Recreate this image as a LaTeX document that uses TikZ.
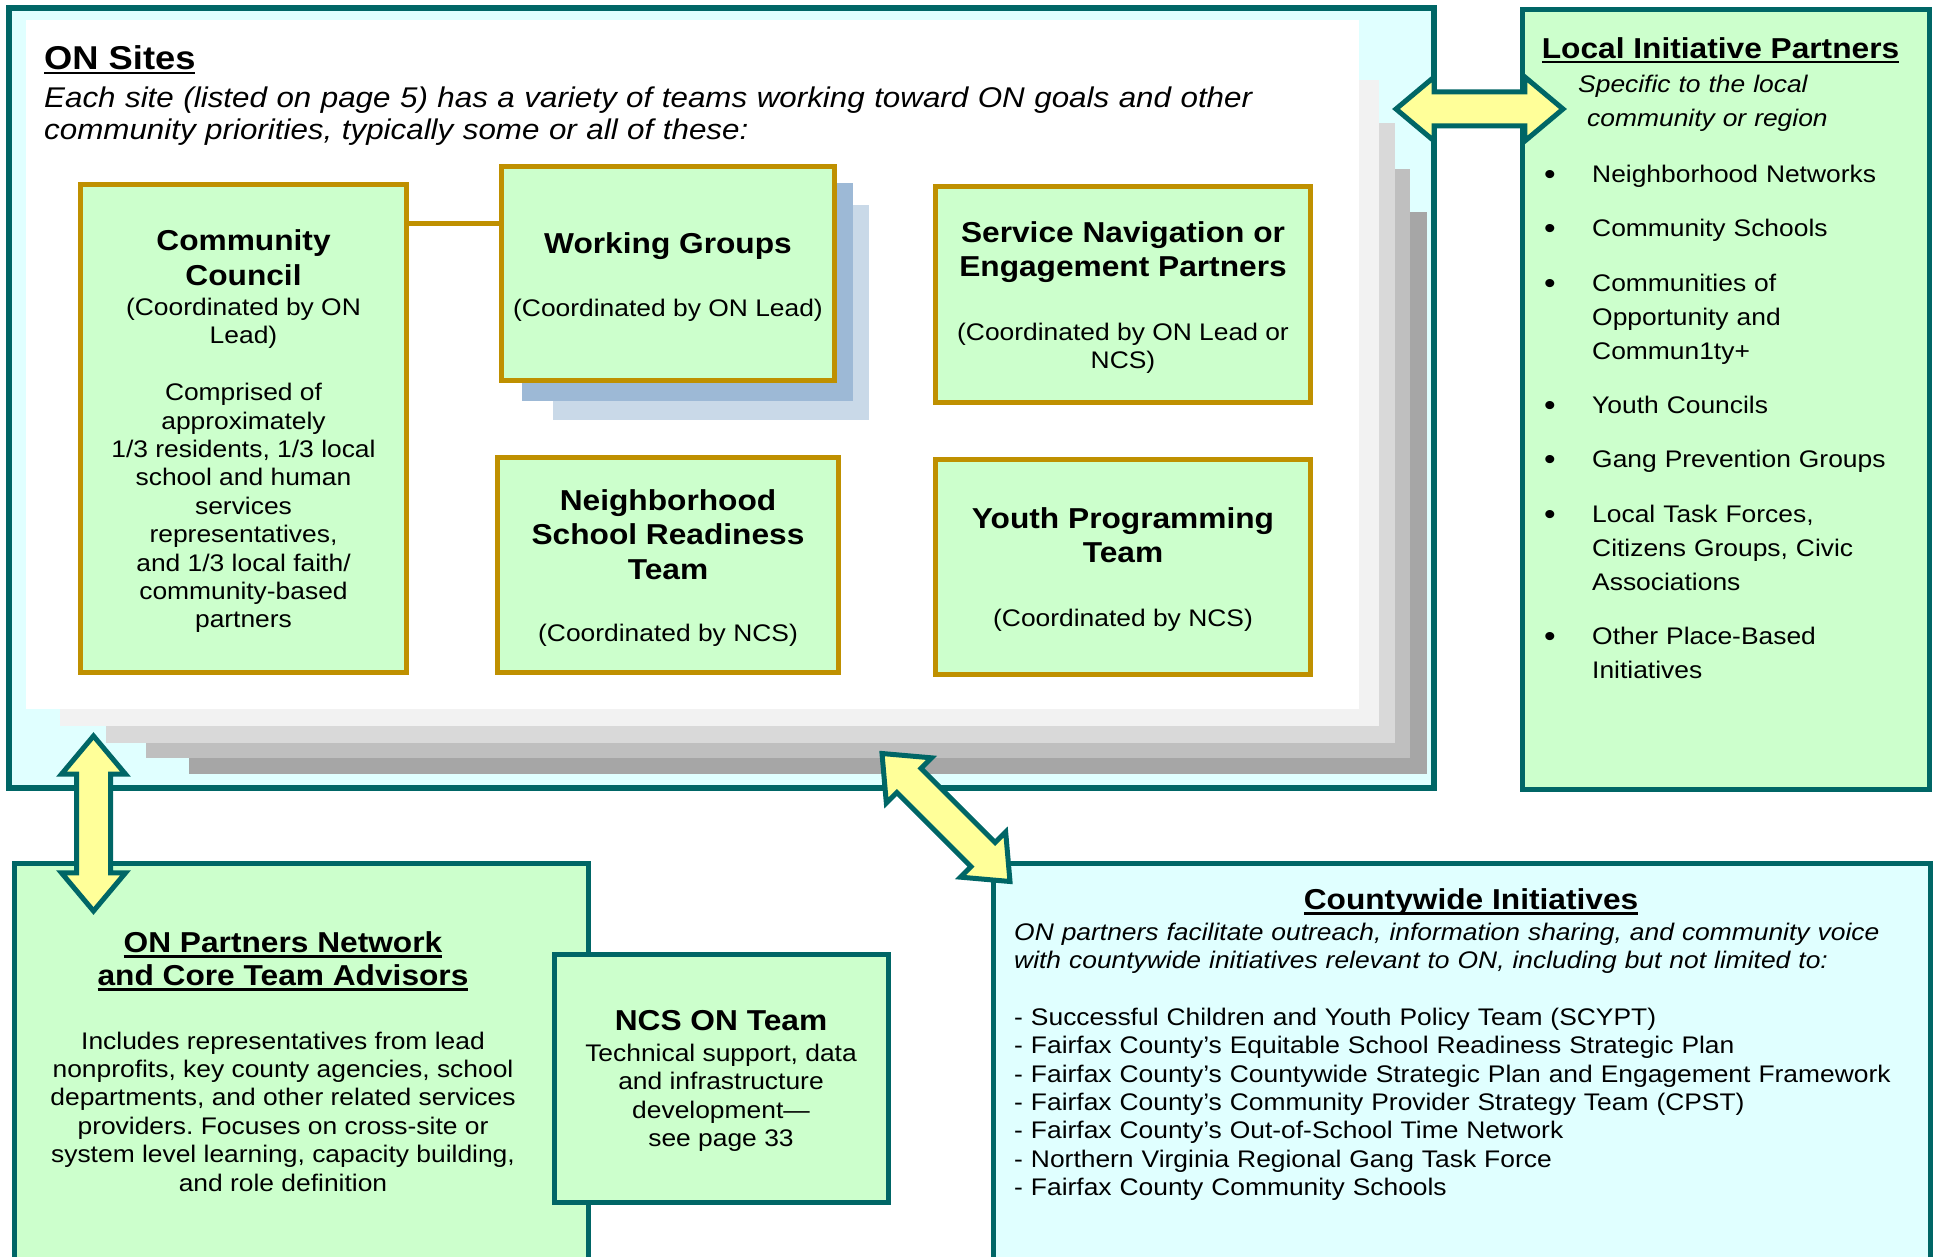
\documentclass[tikz,border=0pt]{standalone}
\usepackage{fontspec}
\setmainfont{Liberation Sans}[FakeStretch=1.1]
\usetikzlibrary{shapes.arrows,calc}

\definecolor{onteal}{HTML}{006666}
\definecolor{onmint}{HTML}{CCFFCC}
\definecolor{onice}{HTML}{E0FFFF}
\definecolor{ongold}{HTML}{BF9000}
\definecolor{onyellow}{HTML}{FFFF99}
\definecolor{layerA}{HTML}{F2F2F2}
\definecolor{layerB}{HTML}{D9D9D9}
\definecolor{layerC}{HTML}{BFBFBF}
\definecolor{layerD}{HTML}{A6A6A6}
\definecolor{wgshadeA}{HTML}{9DB9D6}
\definecolor{wgshadeB}{HTML}{C9D9E8}

\newcommand\fixspace{\spaceskip=\fontdimen2\font\relax\xspaceskip=\fontdimen2\font\relax}
\newcommand\headfont{\bfseries\fontsize{28.8}{34.5}\selectfont\fixspace}
\newcommand\bodyfont{\fontsize{24}{28.4}\selectfont\fixspace}
\newcommand\listfont{\fontsize{24}{34}\selectfont}
% pulls the text of a box down a little
\newcommand\lowerby[1]{\par\kern-#1\nointerlineskip\null}
\newsavebox\ulbox
\newcommand\undl[1]{\leavevmode\sbox\ulbox{#1}\rlap{\rule[-5pt]{\wd\ulbox}{2.5pt}}\usebox\ulbox}
\newcommand\lipitem[1]{\hangindent=48pt\hangafter=1\makebox[48pt][l]{\raisebox{-2pt}{\fontsize{30}{30}\selectfont\textbullet}}#1\par\vspace{20.3pt}}

\begin{document}
\begin{tikzpicture}[
    x=1pt, y=-1pt,
    sitebox/.style={
        rectangle,
        draw=ongold,
        line width=5pt,
        fill=onmint,
        inner sep=0pt,
        align=center,
    },
    tealbox/.style={
        rectangle,
        draw=onteal,
        line width=5pt,
        inner sep=0pt,
    },
    fatarrow/.style={
        double arrow,
        draw=onteal,
        fill=onyellow,
        line width=5pt,
        inner xsep=0pt,
        inner ysep=14.5pt,
        double arrow head extend=15pt,
        double arrow tip angle=80,
    },
]

    \useasboundingbox (0,0) rectangle (1939,1257);
    \clip (0,0) rectangle (1939,1257);

    % ON sites frame and the stacked pages
    \node[tealbox, line width=6pt, fill=onice, minimum width=1425pt, minimum height=780pt] (sites) at (721.5,398) {};
    \fill[layerD] (189,212) rectangle (1427,774);
    \fill[layerC] (146,169) rectangle (1410,758);
    \fill[layerB] (106,123) rectangle (1395,743);
    \fill[layerA] (60,80) rectangle (1379,726);
    \fill[white] (26,20) rectangle (1359,709);

    \node[anchor=base west, inner sep=0pt, font=\bfseries\fontsize{33}{38}\selectfont] (sitesTitle) at (44,69.3) {\undl{ON Sites}};
    \node[anchor=base west, inner sep=0pt, text width=1300pt, align=left, font=\itshape\fontsize{28.5}{32}\selectfont] (sitesIntro) at (44,107.5)
        {Each site (listed on page 5) has a variety of teams working toward ON goals and other\\community priorities, typically some or all of these:};

    % teams
    \node[sitebox, minimum width=326pt, minimum height=488pt, text width=310pt] (cc) at (243.5,428.5)
        {{\headfont Community\\Council\par}\vspace{1.6pt}{\bodyfont (Coordinated by ON\\Lead)\\[28.4pt]Comprised of\\approximately\\1/3 residents, 1/3 local\\school and human\\services\\representatives,\\and 1/3 local faith/\\community-based\\partners\par}\lowerby{6pt}};

    \fill[wgshadeB] (553,205) rectangle (869,420);
    \fill[wgshadeA] (522,183) rectangle (853,401);
    \node[sitebox, minimum width=333pt, minimum height=214pt, text width=320pt] (wg) at (668,273.5)
        {{\headfont Working Groups\par}\vspace{34pt}{\bodyfont (Coordinated by ON Lead)\par}\lowerby{7.4pt}};

    \node[sitebox, minimum width=375pt, minimum height=216pt, text width=360pt] (sn) at (1123,294.5)
        {{\headfont Service Navigation or\\Engagement Partners\par}\vspace{35pt}{\bodyfont (Coordinated by ON Lead or\\NCS)\par}\lowerby{6pt}};

    \node[sitebox, minimum width=341pt, minimum height=215pt, text width=330pt] (nsr) at (668,565)
        {{\headfont Neighborhood\\School Readiness\\Team\par}\vspace{34pt}{\bodyfont (Coordinated by NCS)\par}\lowerby{6pt}};

    \node[sitebox, minimum width=375pt, minimum height=215pt, text width=360pt] (yp) at (1123,567)
        {{\headfont Youth Programming\\Team\par}\vspace{35pt}{\bodyfont (Coordinated by NCS)\par}\lowerby{5pt}};

    \draw[ongold, line width=5pt] ([yshift=49.5pt]wg.west) -- ([yshift=49.5pt]wg.west -| cc.east);

    % local initiative partners
    \node[tealbox, fill=onmint, minimum width=407pt, minimum height=779pt] (lip) at (1725.5,399.5) {};
    \node[anchor=base, inner sep=0pt, font=\headfont] (lipTitle) at (1720.5,58.3) {\undl{Local Initiative Partners}};
    \node[anchor=base west, inner sep=0pt, text width=350pt, align=left, font=\itshape\listfont] (lipIntro) at (1578,92.7)
        {Specific to the local\\\hspace*{9pt}community or region};
    \node[anchor=base west, inner sep=0pt, text width=380pt, align=left, font=\listfont] (lipList) at (1544,182.7)
        {\lipitem{Neighborhood Networks}
         \lipitem{Community Schools}
         \lipitem{Communities of\newline Opportunity and\newline Commun1ty+}
         \lipitem{Youth Councils}
         \lipitem{Gang Prevention Groups}
         \lipitem{Local Task Forces,\newline Citizens Groups, Civic\newline Associations}
         \lipitem{Other Place-Based\newline Initiatives}};

    % partners network and NCS team
    \node[tealbox, fill=onmint, minimum width=573.5pt, minimum height=427pt] (onp) at (301.25,1076.5) {};
    \node[anchor=base, inner sep=0pt, text width=540pt, align=center] (onpText) at (283,952.7)
        {{\headfont\setlength\baselineskip{33pt}\undl{ON Partners Network}\\\undl{and Core Team Advisors}\par}\vspace{35pt}%
         {\bodyfont Includes representatives from lead\\nonprofits, key county agencies, school\\departments, and other related services\\providers. Focuses on cross-site or\\system level learning, capacity building,\\and role definition\par}};

    \node[tealbox, fill=onmint, minimum width=334pt, minimum height=248pt, text width=320pt, align=center] (ncs) at (721,1078)
        {{\headfont NCS ON Team\par}\vspace{2.3pt}{\bodyfont Technical support, data\\and infrastructure\\development—\\see page 33\par}\lowerby{6pt}};

    % countywide initiatives
    \node[tealbox, fill=onice, minimum width=937pt, minimum height=427pt] (cw) at (1461.5,1076.5) {};
    \node[anchor=base, inner sep=0pt, font=\headfont] (cwTitle) at (1471,909.5) {\undl{Countywide Initiatives}};
    \node[anchor=base west, inner sep=0pt, text width=900pt, align=left, font=\bodyfont] (cwBody) at (1014,940)
        {\itshape ON partners facilitate outreach, information sharing, and community voice\\with countywide initiatives relevant to ON, including but not limited to:\par\vspace{28.4pt}%
         \upshape - Successful Children and Youth Policy Team (SCYPT)\\- Fairfax County’s Equitable School Readiness Strategic Plan\\- Fairfax County’s Countywide Strategic Plan and Engagement Framework\\- Fairfax County’s Community Provider Strategy Team (CPST)\\- Fairfax County’s Out-of-School Time Network\\- Northern Virginia Regional Gang Task Force\\- Fairfax County Community Schools};

    % links between the groups
    \coordinate (lipEndA) at (1392,109);
    \coordinate (lipEndB) at (1567,109);
    \coordinate (onpEndA) at (93.5,732);
    \coordinate (onpEndB) at (93.5,915);
    \coordinate (cwEndA) at (879,751);
    \coordinate (cwEndB) at (1013,884);
    \node[fatarrow, minimum height=167pt] (arrLip) at ($(lipEndA)!0.5!(lipEndB)$) {};
    \node[fatarrow, minimum height=175pt, rotate=90] (arrOnp) at ($(onpEndA)!0.5!(onpEndB)$) {};
    \node[fatarrow, minimum height=181pt, rotate=-45] (arrCw) at ($(cwEndA)!0.5!(cwEndB)$) {};

\end{tikzpicture}
\end{document}
